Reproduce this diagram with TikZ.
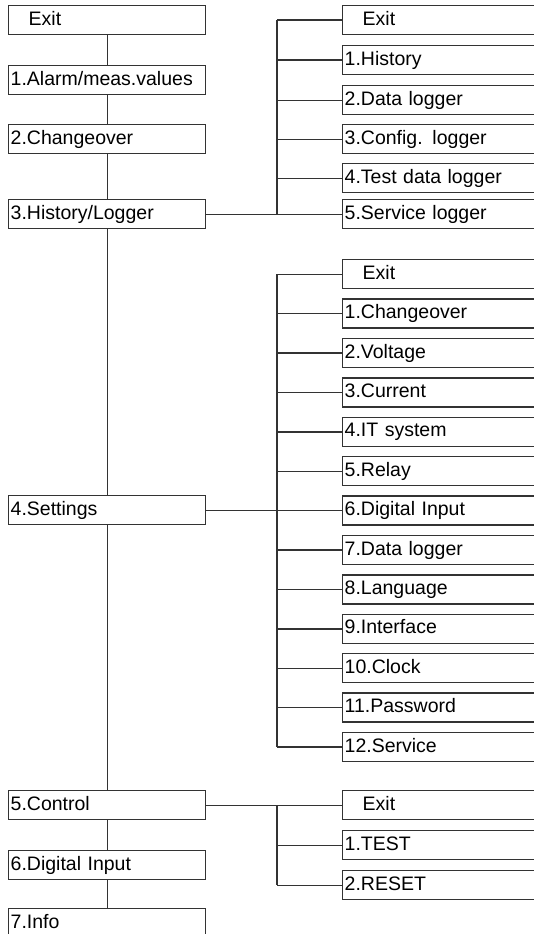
\documentclass[tikz,border=0pt]{standalone}
\usepackage{fontspec}
\setmainfont{Liberation Sans}
\begin{document}
\begin{tikzpicture}[x=1pt,y=-1pt,
  box/.style={draw=black!80, line width=1.4pt, fill=white, rectangle, anchor=north west,
    minimum height=29pt, text height=14pt, text depth=4pt, inner xsep=2pt, inner ysep=0pt,
    align=left, font=\fontsize{19.5}{22}\selectfont},
  lbox/.style={box, text width=193pt},
  rbox/.style={box, text width=226pt},
  link/.style={draw=black!80, line width=1.4pt}]
\useasboundingbox (0,0) rectangle (534,934);
\clip (0,0) rectangle (534,934);
% left column
\node[lbox] (exit) at (8,5) {\hspace*{18pt}Exit};
\node[lbox] (alarm) at (8,65) {1.Alarm/meas.values};
\node[lbox] (chg) at (8,124) {2.Changeover};
\node[lbox] (hist) at (8,199) {3.History/Logger};
\node[lbox] (set) at (8,495) {4.Settings};
\node[lbox] (ctrl) at (8,790) {5.Control};
\node[lbox] (dig) at (8,850) {6.Digital Input};
\node[lbox] (info) at (8,908) {7.Info};
\draw[link] (exit.south) -- (alarm.north);
\draw[link] (alarm.south) -- (chg.north);
\draw[link] (chg.south) -- (hist.north);
\draw[link] (hist.south) -- (set.north);
\draw[link] (set.south) -- (ctrl.north);
\draw[link] (ctrl.south) -- (dig.north);
\draw[link] (dig.south) -- (info.north);
\coordinate (bus) at (277,0);
% history submenu
\node[rbox] (h0) at (342,5) {\hspace*{18pt}Exit};
\node[rbox] (h1) at (342,45) {1.History};
\node[rbox] (h2) at (342,85) {2.Data logger};
\node[rbox] (h3) at (342,124) {3.Config. logger};
\node[rbox] (h4) at (342,163) {4.Test data logger};
\node[rbox] (h5) at (342,199) {5.Service logger};
\draw[link] (bus |- h0.west) -- (bus |- h5.west);
\foreach \i in {0,...,4} \draw[link] (bus |- h\i.west) -- (h\i.west);
\draw[link] (hist.east) -- (h5.west);
% settings submenu
\foreach \t [count=\i from 0] in {{\hspace*{18pt}Exit},1.Changeover,2.Voltage,3.Current,4.IT system,5.Relay,6.Digital Input,7.Data logger,8.Language,9.Interface,10.Clock,11.Password,12.Service}
  \node[rbox] (s\i) at (342,{259+39.4*\i}) {\t};
\draw[link] (bus |- s0.west) -- (bus |- s12.west);
\foreach \i in {0,...,5,7,8,9,10,11,12} \draw[link] (bus |- s\i.west) -- (s\i.west);
\draw[link] (set.east) -- (set.east -| s6.west);
% control submenu
\node[rbox] (c0) at (342,790) {\hspace*{18pt}Exit};
\node[rbox] (c1) at (342,830) {1.TEST};
\node[rbox] (c2) at (342,870) {2.RESET};
\draw[link] (bus |- c0.west) -- (bus |- c2.west);
\foreach \i in {1,2} \draw[link] (bus |- c\i.west) -- (c\i.west);
\draw[link] (ctrl.east) -- (c0.west);
\end{tikzpicture}
\end{document}
